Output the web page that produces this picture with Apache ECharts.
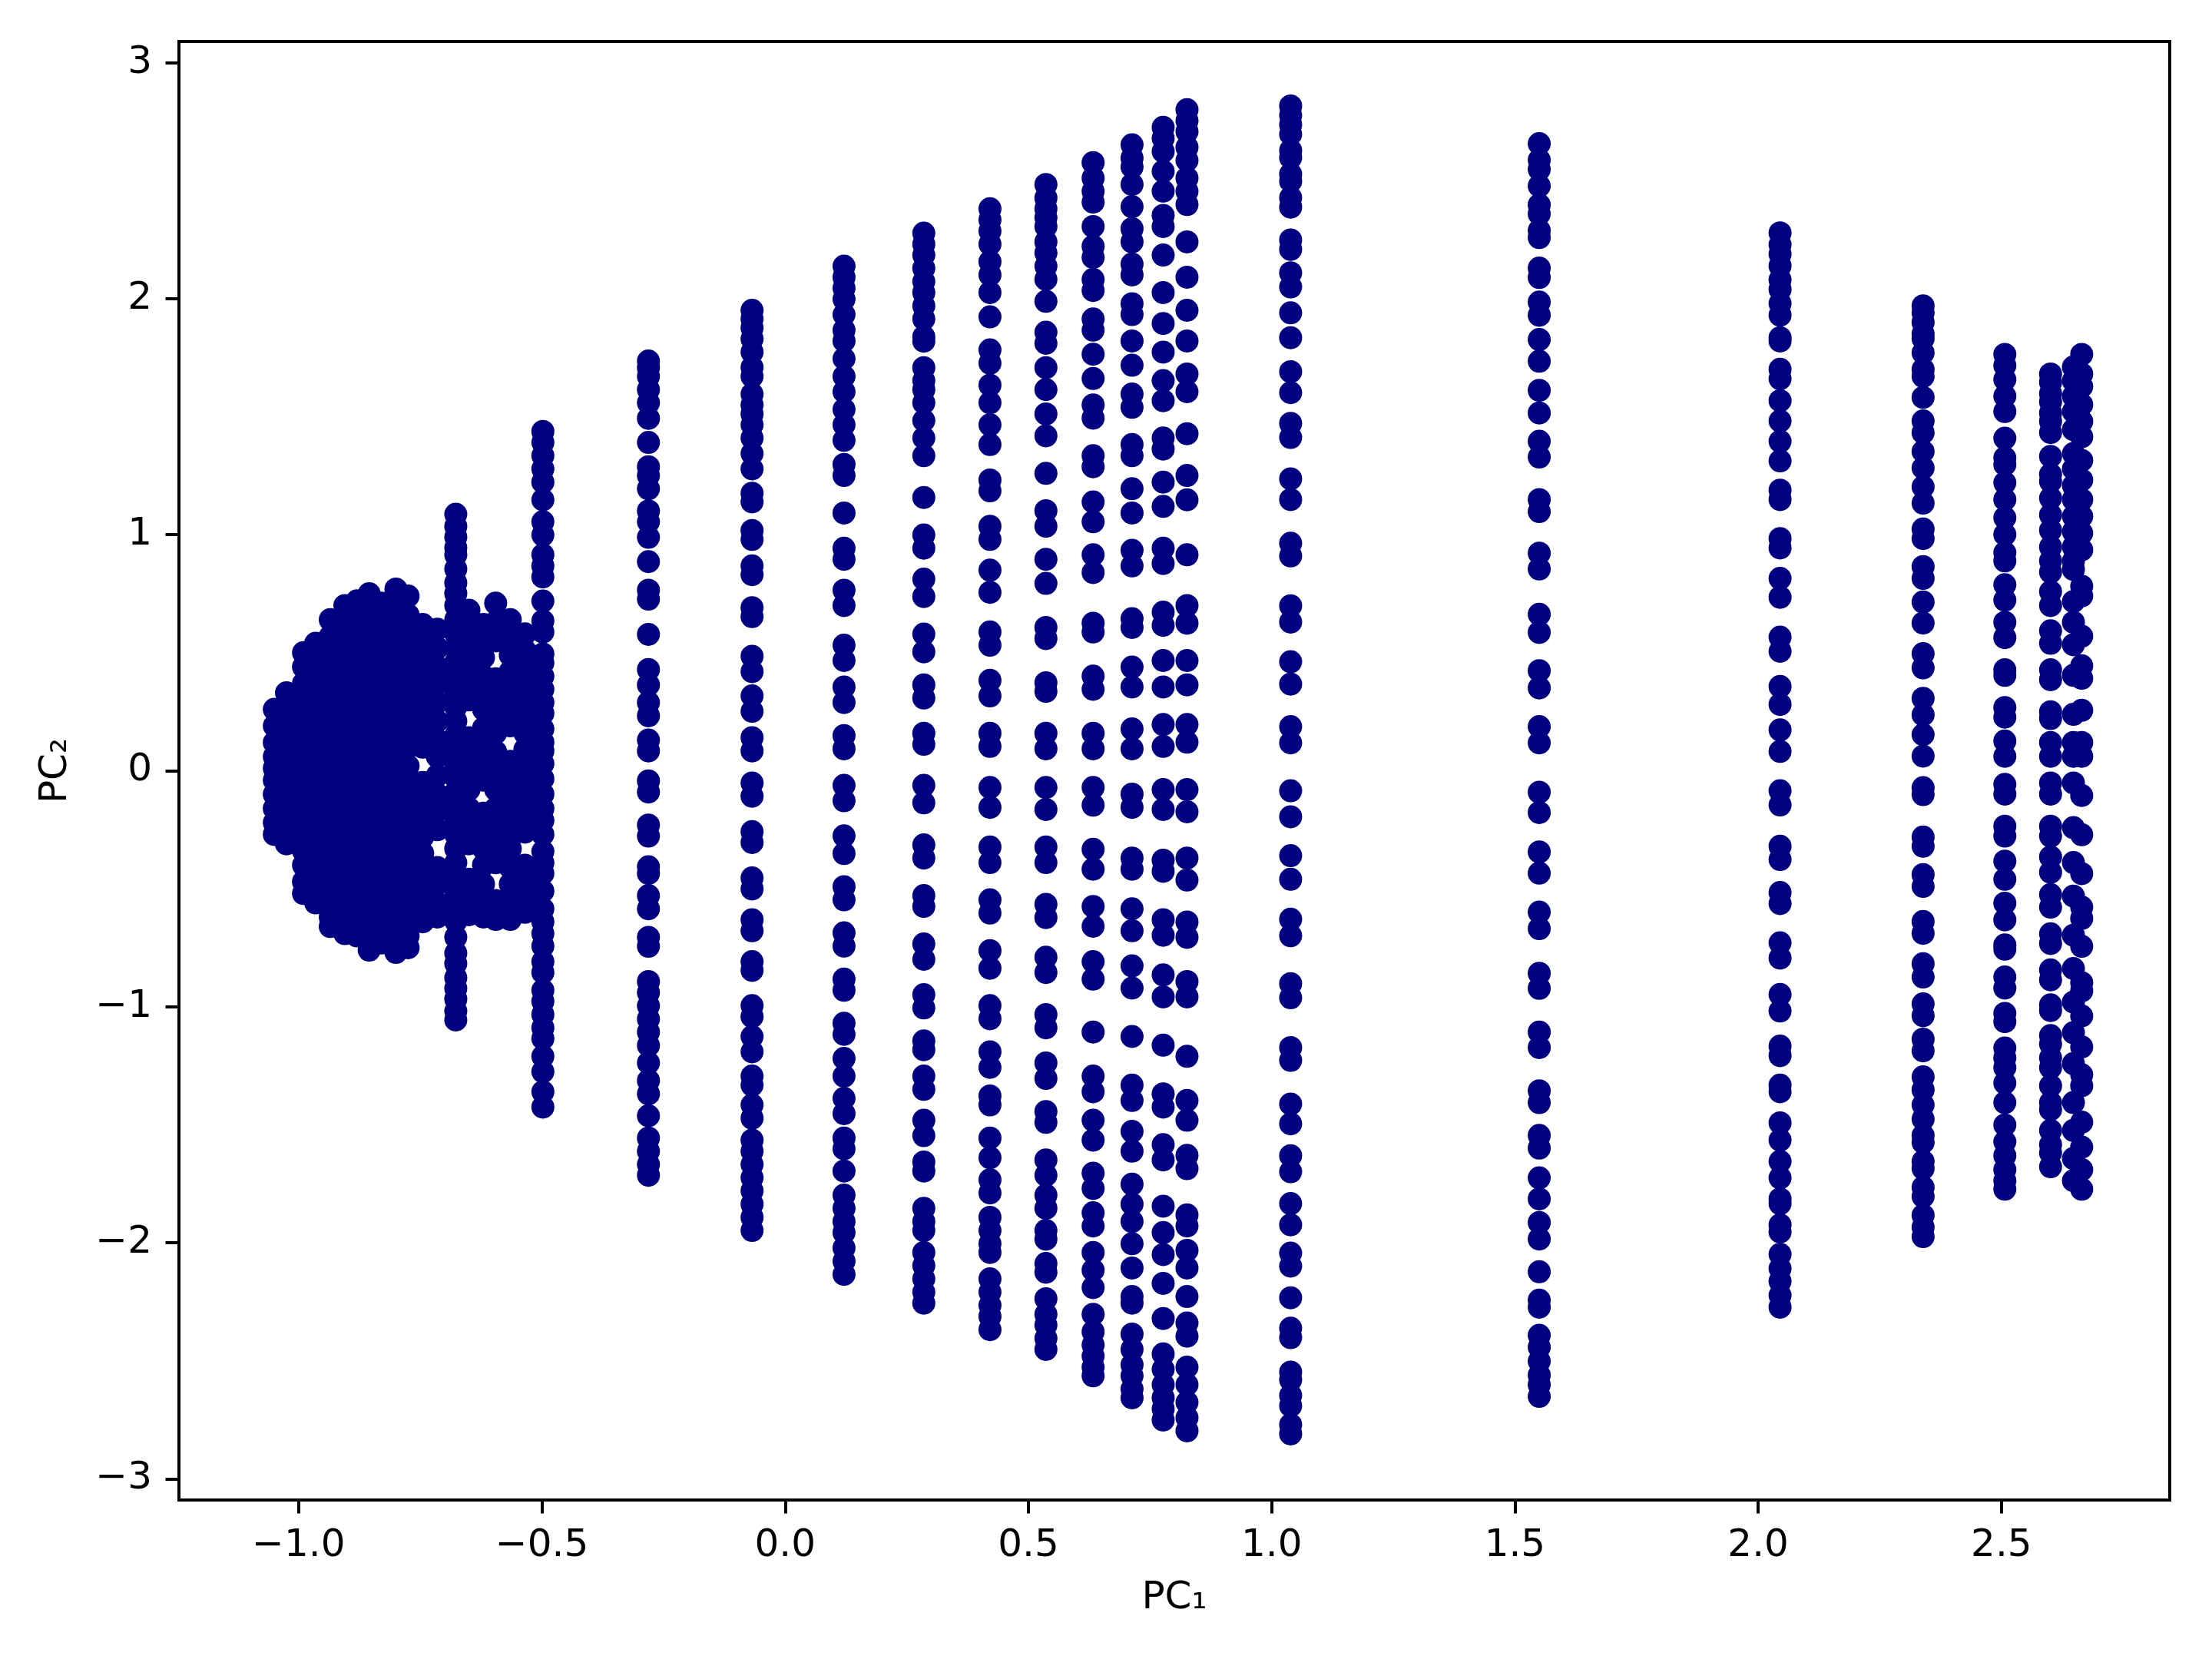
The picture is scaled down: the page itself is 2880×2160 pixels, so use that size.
<!DOCTYPE html>
<html>
<head>
<meta charset="utf-8">
<script src="https://cdn.jsdelivr.net/npm/echarts@6/dist/echarts.min.js"></script>
<style>
html,body{margin:0;padding:0;background:#fff;}
#chart{width:2880px;height:2160px;}
</style>
</head>
<body>
<div id="chart"></div>
<script>
// ---- tick labels ----
const xTicks = [-1.0, -0.5, 0.0, 0.5, 1.0, 1.5, 2.0, 2.5];
const yTicks = [-3, -2, -1, 0, 1, 2, 3];

// ---- PC1 position of each vertical strip of points ----
const stripPC1 = [-1.05, -1.025, -0.99, -0.965, -0.935, -0.905, -0.88, -0.855, -0.83, -0.80,
  -0.775, -0.745, -0.715, -0.677, -0.65, -0.62, -0.595, -0.565, -0.535, -0.498,
  -0.281, -0.068, 0.121, 0.285, 0.421, 0.536, 0.633, 0.713, 0.777, 0.826,
  1.039, 1.550, 2.045, 2.339, 2.507, 2.601, 2.648, 2.665];

// ---- PC2 values of each strip ----
const pc2_s01 = [0.26,0.19,0.12,0.06,0.01,-0.04,-0.10,-0.16,-0.22,-0.27];
const pc2_s02 = [0.33,0.27,0.21,0.14,0.08,0.02,-0.03,-0.09,-0.15,-0.21,-0.28,-0.31];
const pc2_s03 = [0.50,0.44,0.37,0.30,0.24,0.17,0.11,0.04,-0.02,-0.08,-0.15,-0.21,-0.27,-0.34,-0.40,-0.47,-0.52];
const pc2_s04 = [0.54,0.47,0.40,0.33,0.26,0.20,0.13,0.06,0.0,-0.07,-0.13,-0.20,-0.27,-0.34,-0.41,-0.48,-0.56];
const pc2_s05 = [0.64,0.57,0.50,0.43,0.36,0.29,0.22,0.15,0.08,0.01,-0.06,-0.13,-0.20,-0.27,-0.34,-0.41,-0.48,-0.55,-0.62,-0.66];
const pc2_s06 = [0.70,0.63,0.55,0.48,0.41,0.33,0.26,0.19,0.11,0.04,-0.03,-0.10,-0.18,-0.25,-0.32,-0.40,-0.47,-0.54,-0.62,-0.69];
const pc2_s07 = [0.72,0.65,0.57,0.50,0.42,0.35,0.27,0.20,0.12,0.05,-0.03,-0.10,-0.18,-0.25,-0.33,-0.40,-0.48,-0.55,-0.63,-0.70];
const pc2_s08 = [0.75,0.68,0.60,0.52,0.45,0.37,0.29,0.22,0.14,0.06,-0.01,-0.09,-0.17,-0.24,-0.32,-0.40,-0.47,-0.55,-0.63,-0.70,-0.76];
const pc2_s09 = [0.71,0.63,0.56,0.48,0.40,0.33,0.25,0.17,0.10,0.02,-0.06,-0.13,-0.21,-0.29,-0.36,-0.44,-0.52,-0.59,-0.67,-0.73];
const pc2_s10 = [0.77,0.70,0.62,0.54,0.46,0.38,0.30,0.22,0.15,0.07,-0.01,-0.09,-0.17,-0.25,-0.33,-0.41,-0.48,-0.56,-0.64,-0.72,-0.77];
const pc2_s11 = [0.74,0.66,0.58,0.50,0.42,0.34,0.26,0.18,0.10,0.02,-0.06,-0.14,-0.22,-0.30,-0.38,-0.46,-0.54,-0.62,-0.70,-0.75];
const pc2_s12 = [0.62,0.55,0.47,0.40,0.32,0.25,0.17,0.10,-0.05,-0.13,-0.20,-0.28,-0.35,-0.43,-0.50,-0.58,-0.64];
const pc2_s13 = [0.60,0.52,0.44,0.37,0.29,0.21,0.13,0.06,-0.02,-0.10,-0.17,-0.25,-0.41,-0.48,-0.56,-0.62];
const pc2_s14 = [1.087,1.035,0.990,0.945,0.915,0.855,0.796,0.751,0.70,0.64,0.58,0.52,0.46,0.40,0.33,0.27,0.21,0.15,0.09,0.03,
  -0.03,-0.09,-0.15,-0.21,-0.27,-0.33,-0.39,-0.45,-0.51,-0.57,-0.638,-0.705,-0.773,-0.817,-0.877,-0.922,-0.967,-1.019,-1.056];
const pc2_s15 = [0.68,0.60,0.52,0.45,0.37,0.30,0.14,0.07,-0.01,-0.08,-0.16,-0.23,-0.31,-0.46,-0.54,-0.61];
const pc2_s16 = [0.62,0.55,0.48,0.40,0.33,0.26,0.18,0.11,0.04,-0.04,-0.18,-0.26,-0.33,-0.40,-0.48,-0.55,-0.62];
const pc2_s17 = [0.71,0.63,0.55,0.39,0.31,0.24,0.16,0.08,0.0,-0.08,-0.16,-0.24,-0.32,-0.39,-0.55,-0.63];
const pc2_s18 = [0.64,0.57,0.49,0.42,0.34,0.27,0.19,0.04,-0.03,-0.11,-0.18,-0.26,-0.33,-0.41,-0.48,-0.56,-0.63];
const pc2_s19 = [0.58,0.51,0.44,0.37,0.30,0.23,0.16,0.09,0.02,-0.05,-0.12,-0.19,-0.26,-0.40,-0.47,-0.54,-0.60];
const pc2_s20 = [1.438,1.391,1.335,1.279,1.223,1.148,1.055,0.999,0.915,0.868,0.821,0.719,0.635,0.588,0.495,0.457,0.40,0.345,0.289,0.243,0.177,0.121,0.084,0.03,
  -0.034,-0.099,-0.16,-0.211,-0.27,-0.342,-0.39,-0.435,-0.510,-0.585,-0.64,-0.69,-0.743,-0.809,-0.855,-0.930,-0.977,-1.033,-1.089,-1.135,-1.210,-1.275,-1.360,-1.425];
const pc2_s21 = [1.736,1.708,1.671,1.615,1.559,1.493,1.391,1.288,1.251,1.195,1.101,1.055,0.989,0.886,0.765,0.727,0.578,0.429,0.364,0.289,0.233,0.130,0.084,
  -0.043,-0.090,-0.230,-0.277,-0.407,-0.435,-0.529,-0.585,-0.706,-0.744,-0.893,-0.940,-0.996,-1.052,-1.107,-1.164,-1.238,-1.313,-1.369,-1.462,-1.556,-1.612,-1.668,-1.714];
const pc2_s22 = [1.951,1.914,1.877,1.830,1.774,1.709,1.671,1.596,1.550,1.512,1.466,1.410,1.344,1.279,1.176,1.139,1.018,0.980,0.868,0.831,0.691,0.653,0.485,0.420,0.317,0.252,0.140,0.084,
  -0.052,-0.108,-0.258,-0.304,-0.454,-0.501,-0.631,-0.678,-0.809,-0.846,-0.995,-1.042,-1.126,-1.191,-1.294,-1.332,-1.416,-1.472,-1.565,-1.612,-1.668,-1.724,-1.780,-1.836,-1.892,-1.948];
const pc2_s23 = [2.138,2.091,2.045,1.998,1.933,1.867,1.821,1.746,1.671,1.606,1.531,1.466,1.400,1.298,1.251,1.092,0.943,0.896,0.765,0.700,0.532,0.467,0.355,0.289,0.149,0.093,
  -0.062,-0.127,-0.276,-0.351,-0.491,-0.547,-0.687,-0.743,-0.883,-0.930,-1.070,-1.117,-1.219,-1.294,-1.388,-1.453,-1.556,-1.602,-1.696,-1.798,-1.854,-1.910,-1.957,-2.022,-2.078,-2.134];
const pc2_s24 = [2.278,2.231,2.185,2.129,2.073,2.026,1.970,1.914,1.839,1.820,1.708,1.653,1.615,1.559,1.484,1.410,1.335,1.158,0.999,0.943,0.812,0.738,0.579,0.504,0.364,0.308,0.159,0.112,
  -0.062,-0.136,-0.314,-0.370,-0.529,-0.575,-0.734,-0.799,-0.949,-1.005,-1.145,-1.182,-1.294,-1.350,-1.481,-1.546,-1.658,-1.696,-1.854,-1.910,-1.948,-2.041,-2.097,-2.153,-2.209,-2.256];
const pc2_s25 = [2.381,2.334,2.287,2.231,2.157,2.101,2.026,1.923,1.783,1.727,1.634,1.559,1.466,1.382,1.232,1.186,1.036,0.980,0.850,0.756,0.588,0.532,0.383,0.317,0.159,0.103,
  -0.071,-0.155,-0.323,-0.389,-0.547,-0.603,-0.762,-0.837,-0.995,-1.051,-1.191,-1.257,-1.378,-1.416,-1.556,-1.640,-1.733,-1.789,-1.892,-1.948,-2.004,-2.041,-2.153,-2.209,-2.265,-2.312,-2.368];
const pc2_s26 = [2.484,2.427,2.381,2.343,2.306,2.241,2.194,2.138,2.082,1.989,1.858,1.811,1.708,1.615,1.512,1.419,1.260,1.102,1.036,0.896,0.794,0.607,0.560,0.373,0.336,0.159,0.093,
  -0.071,-0.164,-0.323,-0.389,-0.566,-0.622,-0.790,-0.855,-1.033,-1.089,-1.238,-1.304,-1.444,-1.490,-1.649,-1.714,-1.798,-1.854,-1.948,-1.985,-2.088,-2.125,-2.237,-2.303,-2.349,-2.405,-2.452];
const pc2_s27 = [2.577,2.511,2.455,2.409,2.306,2.222,2.175,2.082,2.035,1.914,1.867,1.765,1.662,1.550,1.494,1.335,1.288,1.139,1.055,0.915,0.840,0.625,0.588,0.401,0.345,0.159,0.093,
  -0.071,-0.146,-0.333,-0.417,-0.575,-0.659,-0.809,-0.883,-1.107,-1.294,-1.360,-1.481,-1.565,-1.705,-1.770,-1.873,-1.929,-2.041,-2.116,-2.190,-2.303,-2.377,-2.433,-2.480,-2.527,-2.564];
const pc2_s28 = [2.652,2.596,2.558,2.484,2.390,2.297,2.241,2.147,2.101,1.979,1.933,1.821,1.718,1.596,1.540,1.382,1.335,1.195,1.092,0.934,0.868,0.644,0.607,0.439,0.355,0.177,0.093,
  -0.099,-0.155,-0.370,-0.417,-0.585,-0.678,-0.827,-0.921,-1.126,-1.332,-1.397,-1.528,-1.612,-1.752,-1.836,-1.910,-2.004,-2.107,-2.228,-2.256,-2.387,-2.452,-2.517,-2.564,-2.620,-2.657];
const pc2_s29 = [2.726,2.680,2.624,2.540,2.456,2.353,2.306,2.185,2.026,1.895,1.774,1.653,1.568,1.410,1.363,1.223,1.120,0.943,0.878,0.672,0.616,0.467,0.355,0.196,0.103,
  -0.080,-0.164,-0.379,-0.426,-0.631,-0.697,-0.865,-0.958,-1.163,-1.369,-1.425,-1.584,-1.649,-1.845,-1.957,-2.050,-2.172,-2.321,-2.471,-2.536,-2.601,-2.657,-2.704,-2.751];
const pc2_s30 = [2.801,2.754,2.708,2.642,2.586,2.511,2.455,2.399,2.241,2.091,1.951,1.821,1.681,1.606,1.428,1.251,1.148,0.915,0.700,0.625,0.467,0.364,0.196,0.121,
  -0.080,-0.174,-0.370,-0.463,-0.641,-0.706,-0.893,-0.958,-1.210,-1.397,-1.481,-1.630,-1.686,-1.882,-1.929,-2.032,-2.107,-2.228,-2.340,-2.396,-2.527,-2.601,-2.676,-2.741,-2.797];
const pc2_s31 = [2.817,2.777,2.737,2.697,2.628,2.598,2.528,2.498,2.428,2.388,2.249,2.209,2.110,2.050,1.940,1.835,1.691,1.602,1.472,1.412,1.237,1.149,0.964,0.910,0.699,0.630,0.462,0.367,0.187,0.118,
  -0.085,-0.195,-0.360,-0.460,-0.629,-0.699,-0.902,-0.962,-1.173,-1.227,-1.412,-1.496,-1.631,-1.699,-1.834,-1.924,-2.044,-2.099,-2.233,-2.362,-2.402,-2.548,-2.581,-2.647,-2.691,-2.771,-2.810];
const pc2_s32 = [2.657,2.588,2.548,2.478,2.398,2.359,2.289,2.259,2.130,2.090,1.986,1.930,1.827,1.735,1.612,1.516,1.396,1.329,1.149,1.098,0.922,0.855,0.663,0.586,0.424,0.351,0.187,0.118,
  -0.091,-0.177,-0.344,-0.434,-0.599,-0.669,-0.858,-0.922,-1.107,-1.173,-1.356,-1.406,-1.545,-1.599,-1.725,-1.814,-1.914,-1.984,-2.123,-2.243,-2.273,-2.392,-2.442,-2.502,-2.561,-2.601,-2.651];
const pc2_s33 = [2.279,2.229,2.189,2.139,2.080,2.040,1.980,1.930,1.835,1.821,1.701,1.661,1.568,1.482,1.396,1.313,1.189,1.149,0.984,0.944,0.815,0.735,0.566,0.506,0.357,0.281,0.173,0.082,
  -0.085,-0.145,-0.320,-0.376,-0.516,-0.563,-0.729,-0.794,-0.948,-1.018,-1.167,-1.207,-1.332,-1.360,-1.492,-1.565,-1.655,-1.725,-1.814,-1.834,-1.924,-1.954,-2.049,-2.109,-2.163,-2.223,-2.273];
const pc2_s34 = [1.970,1.940,1.900,1.851,1.831,1.771,1.701,1.671,1.582,1.482,1.432,1.353,1.283,1.203,1.134,1.024,0.984,0.865,0.815,0.715,0.626,0.496,0.436,0.307,0.237,0.153,0.062,
  -0.072,-0.101,-0.281,-0.320,-0.440,-0.490,-0.639,-0.689,-0.818,-0.874,-0.988,-1.038,-1.137,-1.187,-1.297,-1.352,-1.416,-1.476,-1.545,-1.575,-1.655,-1.685,-1.765,-1.804,-1.884,-1.934,-1.974];
const pc2_s35 = [1.764,1.717,1.658,1.587,1.522,1.409,1.326,1.297,1.220,1.149,1.072,1.001,0.924,0.889,0.788,0.723,0.629,0.564,0.428,0.404,0.268,0.227,0.126,0.061,
  -0.058,-0.099,-0.235,-0.277,-0.383,-0.460,-0.561,-0.632,-0.738,-0.756,-0.874,-0.921,-1.028,-1.063,-1.175,-1.217,-1.258,-1.323,-1.406,-1.501,-1.572,-1.631,-1.690,-1.737,-1.773];
const pc2_s36 = [1.681,1.646,1.598,1.563,1.516,1.480,1.433,1.332,1.256,1.226,1.155,1.084,1.019,0.948,0.889,0.842,0.759,0.700,0.593,0.540,0.428,0.386,0.250,0.221,0.120,0.061,
  -0.052,-0.099,-0.235,-0.277,-0.365,-0.430,-0.525,-0.578,-0.691,-0.732,-0.844,-0.886,-0.992,-1.016,-1.122,-1.158,-1.217,-1.258,-1.335,-1.406,-1.436,-1.524,-1.584,-1.619,-1.678];
const pc2_s37 = [1.711,1.652,1.587,1.522,1.445,1.344,1.279,1.208,1.149,1.078,1.013,0.948,0.889,0.853,0.717,0.629,0.534,0.404,0.239,0.120,0.061,
  -0.052,-0.241,-0.389,-0.531,-0.697,-0.838,-0.980,-1.110,-1.241,-1.406,-1.524,-1.643,-1.737];
const pc2_s38 = [1.764,1.681,1.628,1.551,1.480,1.415,1.315,1.232,1.149,1.078,1.007,0.936,0.782,0.741,0.570,0.445,0.392,0.256,0.120,0.061,
  -0.105,-0.271,-0.436,-0.578,-0.626,-0.744,-0.898,-0.933,-1.039,-1.170,-1.288,-1.335,-1.489,-1.595,-1.690,-1.773];

const stripPC2 = [pc2_s01,pc2_s02,pc2_s03,pc2_s04,pc2_s05,pc2_s06,pc2_s07,pc2_s08,pc2_s09,pc2_s10,
  pc2_s11,pc2_s12,pc2_s13,pc2_s14,pc2_s15,pc2_s16,pc2_s17,pc2_s18,pc2_s19,pc2_s20,
  pc2_s21,pc2_s22,pc2_s23,pc2_s24,pc2_s25,pc2_s26,pc2_s27,pc2_s28,pc2_s29,pc2_s30,
  pc2_s31,pc2_s32,pc2_s33,pc2_s34,pc2_s35,pc2_s36,pc2_s37,pc2_s38];

const points = [];
stripPC1.forEach((x, i) => stripPC2[i].forEach(y => points.push([x, y])));

const minus = s => String(s).replace('-', '\u2212');
const font = 'DejaVu Sans';

const chart = echarts.init(document.getElementById('chart'), null, {renderer: 'canvas'});
chart.setOption({
  animation: false,
  backgroundColor: '#ffffff',
  grid: {
    left: 233, right: 55, top: 54, bottom: 207,
    show: true, borderColor: '#000', borderWidth: 4, backgroundColor: 'transparent'
  },
  xAxis: {
    type: 'value', min: -1.246, max: 2.846, position: 'bottom',
    name: 'PC\u2081', nameLocation: 'middle', nameGap: 103,
    nameTextStyle: {fontFamily: font, fontSize: 50, color: '#000'},
    axisLine: {show: false, onZero: false},
    splitLine: {show: false},
    axisTick: {show: true, customValues: xTicks, length: 17.5, lineStyle: {color: '#000', width: 4}},
    axisLabel: {show: true, customValues: xTicks, margin: 35, fontFamily: font, fontSize: 50, color: '#000',
      formatter: v => minus(Number(v).toFixed(1))}
  },
  yAxis: {
    type: 'value', min: -3.09, max: 3.09, position: 'left',
    name: 'PC\u2082', nameLocation: 'middle', nameGap: 135, nameRotate: 90,
    nameTextStyle: {fontFamily: font, fontSize: 50, color: '#000'},
    axisLine: {show: false, onZero: false},
    splitLine: {show: false},
    axisTick: {show: true, customValues: yTicks, length: 17.5, lineStyle: {color: '#000', width: 4}},
    axisLabel: {show: true, customValues: yTicks, margin: 35, fontFamily: font, fontSize: 50, color: '#000',
      formatter: v => minus(Math.round(v))}
  },
  series: [{
    type: 'scatter',
    data: points,
    symbol: 'circle',
    symbolSize: 30,
    itemStyle: {color: '#000080', opacity: 1},
    emphasis: {disabled: true}
  }]
});
</script>
</body>
</html>
